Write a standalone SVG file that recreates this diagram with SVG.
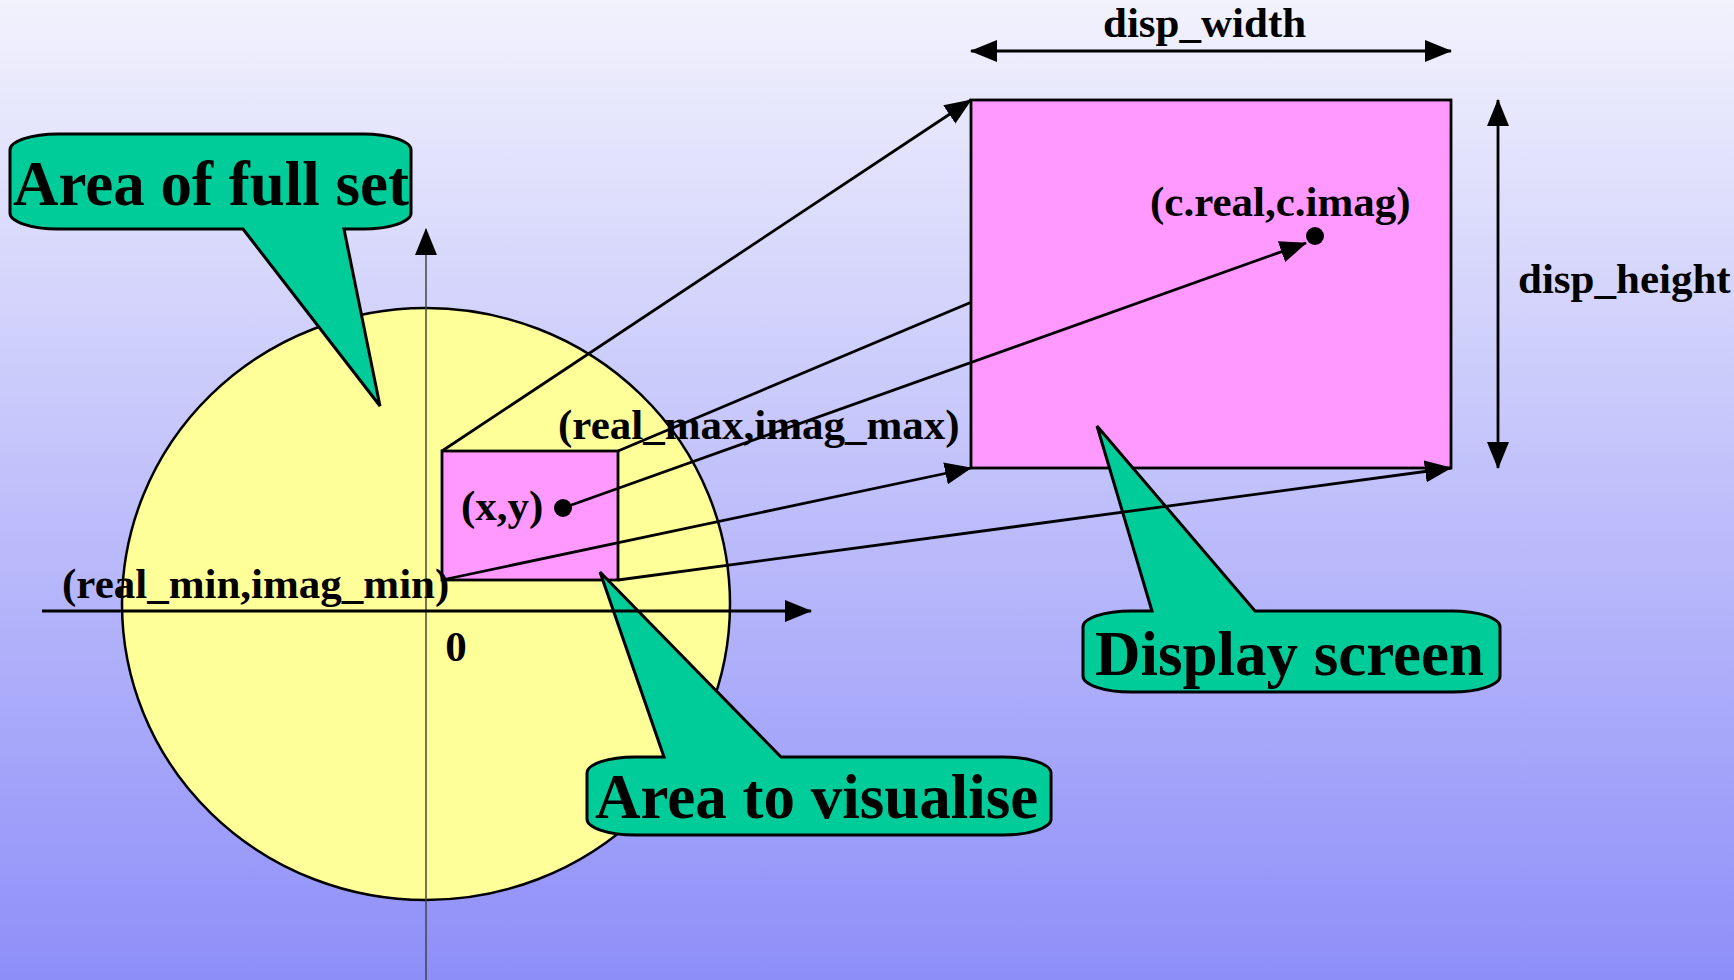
<svg xmlns="http://www.w3.org/2000/svg" width="1734" height="980" viewBox="0 0 1734 980">
<defs>
<linearGradient id="bg" x1="0" y1="0" x2="0" y2="1">
<stop offset="0" stop-color="#F2F2FD"/>
<stop offset="1" stop-color="#8E8EF9"/>
</linearGradient>
<marker id="ah" markerUnits="userSpaceOnUse" markerWidth="27" markerHeight="24" viewBox="0 0 27 24" refX="26" refY="12" orient="auto-start-reverse">
<path d="M0,1 L27,12 L0,23 Z" fill="#000"/>
</marker>
</defs>
<style>
.ln{stroke:#000;stroke-width:2.8;fill:none}
.co{fill:#00CC99;stroke:#000;stroke-width:3;stroke-linejoin:miter}
.big{font-family:"Liberation Serif","Times New Roman",serif;font-weight:bold;font-size:63px;fill:#000}
.lb{font-family:"Liberation Serif","Times New Roman",serif;font-weight:bold;font-size:43px;fill:#000}
</style>
<rect x="0" y="0" width="1734" height="980" fill="url(#bg)"/>

<g id="full-set-circle">
<ellipse cx="426" cy="604" rx="304" ry="296" fill="#FFFF99" stroke="#000" stroke-width="2.5"/>
</g>

<g id="area-rect">
<rect x="442" y="451" width="176" height="129" fill="#FF99FF" stroke="#000" stroke-width="2.8"/>
</g>

<g id="hidden-connector">
<line class="ln" x1="618" y1="451" x2="1451" y2="100"/>
</g>

<g id="display-screen">
<rect x="971" y="100" width="480" height="368" fill="#FF99FF" stroke="#000" stroke-width="2.8"/>
</g>

<g id="callout-full-set">
<path class="co" d="M58,134 H363 A48 16 0 0 1 411 150 V213 A48 16 0 0 1 363 229 H344 L380 406 L243 229 H58 A48 16 0 0 1 10 213 V150 A48 16 0 0 1 58 134 Z"/>
<text class="big" x="13" y="205">Area of full set</text>
</g>

<g id="callout-visualise">
<path class="co" d="M635,757 H664 L600 572 L781 757 H1003 A48 16 0 0 1 1051 773 V819 A48 16 0 0 1 1003 835 H635 A48 16 0 0 1 587 819 V773 A48 16 0 0 1 635 757 Z"/>
<text class="big" x="595" y="818">Area to visualise</text>
</g>

<g id="callout-display">
<path class="co" d="M1131,611 H1152 L1097 426 L1255 611 H1452 A48 16 0 0 1 1500 627 V676 A48 16 0 0 1 1452 692 H1131 A48 16 0 0 1 1083 676 V627 A48 16 0 0 1 1131 611 Z"/>
<text class="big" x="1095" y="675">Display screen</text>
</g>

<g id="connectors">
<line x1="426" y1="980" x2="426" y2="229" stroke="#444" stroke-width="1.5" marker-end="url(#ah)"/>
<line class="ln" x1="42" y1="611" x2="811" y2="611" marker-end="url(#ah)"/>
<line class="ln" x1="442" y1="451" x2="971" y2="100" marker-end="url(#ah)"/>
<line class="ln" x1="442" y1="580" x2="971" y2="468" marker-end="url(#ah)"/>
<line class="ln" x1="618" y1="580" x2="1451" y2="468" marker-end="url(#ah)"/>
<line class="ln" x1="563" y1="508" x2="1306" y2="243" marker-end="url(#ah)"/>
<line class="ln" x1="971" y1="51" x2="1451" y2="51" marker-start="url(#ah)" marker-end="url(#ah)"/>
<line class="ln" x1="1498" y1="100" x2="1498" y2="468" marker-start="url(#ah)" marker-end="url(#ah)"/>
</g>

<g id="points">
<circle cx="563" cy="508" r="9" fill="#000"/>
<circle cx="1315" cy="236" r="9" fill="#000"/>
</g>

<g id="labels">
<text class="lb" x="456" y="661" text-anchor="middle">0</text>
<text class="lb" x="558" y="439">(real_max,imag_max)</text>
<text class="lb" x="62" y="598">(real_min,imag_min)</text>
<text class="lb" x="461" y="520">(x,y)</text>
<text class="lb" x="1150" y="216">(c.real,c.imag)</text>
<text class="lb" x="1103" y="37">disp_width</text>
<text class="lb" x="1518" y="293">disp_height</text>
</g>
</svg>
